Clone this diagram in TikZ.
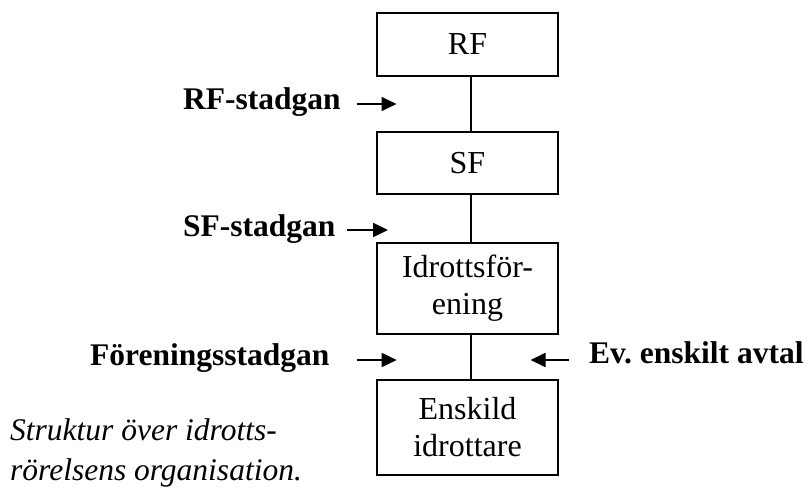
\documentclass[tikz,border=0pt]{standalone}
\usepackage{fontspec}
\setmainfont{Liberation Serif}
\usetikzlibrary{arrows.meta}
\frenchspacing
\tikzset{
  orgbox/.style={draw, line width=1.8pt, minimum width=181pt, inner sep=0pt, align=center, font=\fontsize{32}{37}\selectfont},
  lbl/.style={inner sep=0pt, anchor=base west, font=\fontsize{31.5}{37}\selectfont\bfseries},
  captext/.style={inner sep=0pt, anchor=base west, font=\fontsize{31.5}{40}\selectfont\itshape},
  link/.style={line width=1.8pt},
  inarrow/.style={line width=1.8pt, -{Triangle[length=15pt,width=14pt]}}
}
\begin{document}
\begin{tikzpicture}[x=1pt,y=-1pt]
\useasboundingbox (0,0) rectangle (809,495);
% boxes
\node[orgbox, minimum height=63.3pt] (rf) at (467.5,44.3) {RF};
\node[orgbox, minimum height=62pt] (sf) at (467.5,163) {SF};
\node[orgbox, minimum height=91pt] (if) at (467.5,288.5) {Idrottsför-\\ening};
\node[orgbox, minimum height=95pt] (ei) at (467.5,427.5) {Enskild\\idrottare};
% links
\draw[link] ([xshift=3.2pt]rf.south) -- ([xshift=3.2pt]sf.north);
\draw[link] ([xshift=3.2pt]sf.south) -- ([xshift=3.2pt]if.north);
\draw[link] ([xshift=3.2pt]if.south) -- ([xshift=3.2pt]ei.north);
% labels
\node[lbl] (rfs) at (183,110) {RF-stadgan};
\node[lbl] (sfs) at (183,236.7) {SF-stadgan};
\node[lbl] (fs) at (90,365) {Föreningsstadgan};
\node[lbl] (ev) at (589,363) {Ev. enskilt avtal};
% arrows
\coordinate (a1s) at (356.7,104);
\coordinate (a1e) at (396.5,104);
\coordinate (a2s) at (347.3,230);
\coordinate (a2e) at (388,230);
\coordinate (a3s) at (356.7,360);
\coordinate (a3e) at (396.7,360);
\coordinate (a4s) at (569,360);
\coordinate (a4e) at (530.5,360);
\draw[inarrow] (a1s) -- (a1e);
\draw[inarrow] (a2s) -- (a2e);
\draw[inarrow] (a3s) -- (a3e);
\draw[inarrow] (a4s) -- (a4e);
% caption
\node[captext] (c1) at (10,440) {Struktur över idrotts-};
\node[captext] (c2) at (10,480) {rörelsens organisation.};
\end{tikzpicture}
\end{document}
